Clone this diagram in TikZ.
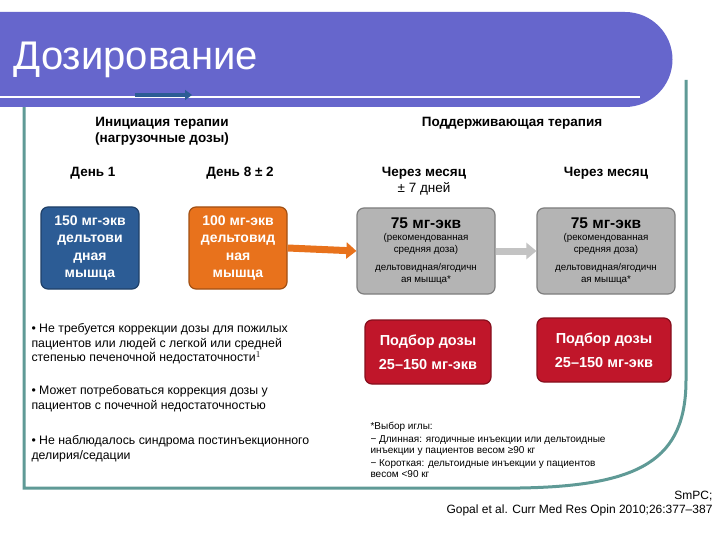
\documentclass[tikz,border=0pt]{standalone}
\usepackage{fontspec}
\setmainfont{Liberation Sans}
\usetikzlibrary{arrows.meta}
\definecolor{ttl}{HTML}{6666CC}
\definecolor{frm}{HTML}{5F9A96}
\definecolor{bl}{HTML}{2C5C95}
\definecolor{orn}{HTML}{E8721C}
\definecolor{gry}{HTML}{B4B4B4}
\definecolor{rd}{HTML}{C0162A}
\tikzset{
 box/.style={draw=#1!70!black,fill=#1,rounded corners=7pt,line width=1.2pt,align=center,inner sep=2pt},
 hdr/.style={font=\bfseries\fontsize{13.5}{16}\selectfont,align=center},
 body/.style={font=\fontsize{12.3}{14.5}\selectfont,align=left,anchor=north west},
 sm/.style={font=\fontsize{10}{11.5}\selectfont,align=left,anchor=north west}
}
\begin{document}
\begin{tikzpicture}[x=1pt,y=-1pt]
\useasboundingbox (0,0) rectangle (720,540);
\fill[white] (0,0) rectangle (720,540);
% frame
\draw[frm,line width=3pt] (24,95) -- (24,488) -- (520,488) .. controls (640,486) and (686,460) .. (686,380) -- (686,80);
% title bar
\fill[ttl] (0,12) -- (625,12) arc[start angle=-90,end angle=90,radius=47.5] -- (0,107) -- cycle;
\draw[white,line width=2.5pt] (0,97) -- (640,97);
\draw[bl,line width=3.5pt,-{Triangle[length=7pt,width=10pt]}] (135,95) -- (192,95);
\node[white,anchor=west,font=\fontsize{40}{42}\selectfont] (title) at (10,60) {Дозирование};
% headers
\node[hdr] (h1) at (162,131) {Инициация терапии\\(нагрузочные дозы)};
\node[hdr] (h2) at (512,123) {Поддерживающая терапия};
\node[hdr] (d1) at (93,173) {День 1};
\node[hdr] (d2) at (240,173) {День 8 ± 2};
\node[font=\fontsize{13.5}{17}\selectfont\bfseries,align=center] (d3) at (424,181) {Через месяц\\[-1pt]{\mdseries ± 7 дней}};
\node[hdr] (d4) at (606,173) {Через месяц};
% boxes
\node[box=bl,minimum width=98pt,minimum height=82pt,text=white,font=\bfseries\fontsize{14}{17.5}\selectfont] (b1) at (90,248) {150 мг-экв\\дельтови\\дная\\мышца};
\node[box=orn,minimum width=98pt,minimum height=82pt,text=white,font=\bfseries\fontsize{14}{17.5}\selectfont] (b2) at (238,248) {100 мг-экв\\дельтовид\\ная\\мышца};
\node[box=gry,minimum width=138pt,minimum height=86pt,font=\fontsize{9.8}{12}\selectfont] (g1) at (426,251) {{\bfseries\fontsize{15.5}{17}\selectfont 75 мг-экв}\\(рекомендованная\\средняя доза)\\[6pt]дельтовидная/ягодичн\\ая мышца*};
\node[box=gry,minimum width=138pt,minimum height=86pt,font=\fontsize{9.8}{12}\selectfont] (g2) at (606,251) {{\bfseries\fontsize{15.5}{17}\selectfont 75 мг-экв}\\(рекомендованная\\средняя доза)\\[6pt]дельтовидная/ягодичн\\ая мышца*};
\draw[orn,line width=7pt,-{Triangle[length=10pt,width=16pt]}] (b2.east) -- (g1.west);
\draw[gry!80,line width=7pt,-{Triangle[length=10pt,width=16pt]}] (g1.east) -- (g2.west);
\node[box=rd,minimum width=126pt,minimum height=64pt,text=white,font=\bfseries\fontsize{14.5}{18}\selectfont] (r1) at (428,352) {Подбор дозы\\[6pt]25–150 мг-экв};
\node[box=rd,minimum width=134pt,minimum height=64pt,text=white,font=\bfseries\fontsize{14.5}{18}\selectfont] (r2) at (604,350) {Подбор дозы\\[6pt]25–150 мг-экв};
% bullets
\node[body] (t1) at (28,320) {• Не требуется коррекции дозы для пожилых\\пациентов или людей с легкой или средней\\степенью печеночной недостаточности$^1$};
\node[body] (t2) at (28,382) {• Может потребоваться коррекция дозы у\\пациентов с почечной недостаточностью};
\node[body] (t3) at (28,432) {• Не наблюдалось синдрома постинъекционного\\делирия/седации};
\node[sm] (n) at (367,419) {*Выбор иглы:\\[1pt]− Длинная: ягодичные инъекции или дельтоидные\\инъекции у пациентов весом ≥90 кг\\[1pt]− Короткая: дельтоидные инъекции у пациентов\\весом <90 кг};
\node[font=\fontsize{12}{14}\selectfont,align=right,anchor=north east] (ref) at (716,488) {SmPC;\\Gopal et al. Curr Med Res Opin 2010;26:377–387};
\end{tikzpicture}
\end{document}
